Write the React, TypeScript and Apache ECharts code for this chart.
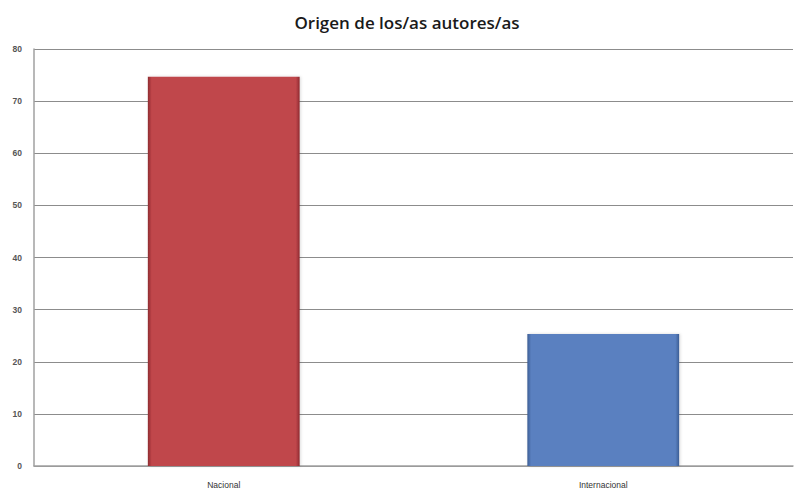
import React, { useEffect, useRef } from "react";
import * as echarts from "echarts";

const title = "Origen de los/as autores/as";
const categories = ["Nacional", "Internacional"];
const values = [74.7, 25.3];
const barColors = [
  { main: "#C0464B", dark: "#8E2B2F" },
  { main: "#5A80C0", dark: "#3C5E95" },
];

export default function App() {
  const ref = useRef<HTMLDivElement>(null);
  useEffect(() => {
    if (!ref.current) return;
    const chart = echarts.init(ref.current, undefined, { renderer: "svg" });
    chart.setOption({
      animation: false,
      backgroundColor: "#ffffff",
      title: {
        text: title,
        left: 402,
        textAlign: "center",
        top: 9,
        textStyle: { fontFamily: "Open Sans", fontWeight: 600, fontSize: 17, color: "#1a1a1a" },
      },
      grid: { left: 34, right: 1, top: 49, bottom: 33, containLabel: false },
      xAxis: {
        type: "category",
        data: categories,
        axisLine: { lineStyle: { color: "#a0a0a0", width: 1.5 } },
        axisTick: { show: false },
        axisLabel: { color: "#333", fontSize: 8.5, fontFamily: "Liberation Sans", margin: 14 },
      },
      yAxis: {
        type: "value",
        min: 0,
        max: 80,
        interval: 10,
        axisLine: { show: true, lineStyle: { color: "#a0a0a0", width: 1.5 } },
        axisTick: { show: false },
        axisLabel: { color: "#555", fontSize: 8.5, fontWeight: "bold", fontFamily: "Liberation Sans", margin: 12 },
        splitLine: { lineStyle: { color: "#8c8c8c", width: 1 } },
      },
      series: [
        {
          type: "bar",
          barWidth: "40%",
          data: values.map((v, i) => ({
            value: v,
            itemStyle: {
              color: {
                type: "linear",
                x: 0, y: 0, x2: 1, y2: 0,
                colorStops: [
                  { offset: 0, color: barColors[i].dark },
                  { offset: 0.025, color: barColors[i].main },
                  { offset: 0.975, color: barColors[i].main },
                  { offset: 1, color: barColors[i].dark },
                ],
              },
              shadowColor: "rgba(0,0,0,0.15)",
              shadowBlur: 3,
              shadowOffsetX: 1,
            },
          })),
        },
      ],
    });
    return () => chart.dispose();
  }, []);
  return (
    <div
      ref={ref}
      style={{ position: "fixed", left: 0, top: 0, width: 794, height: 499 }}
    />
  );
}
